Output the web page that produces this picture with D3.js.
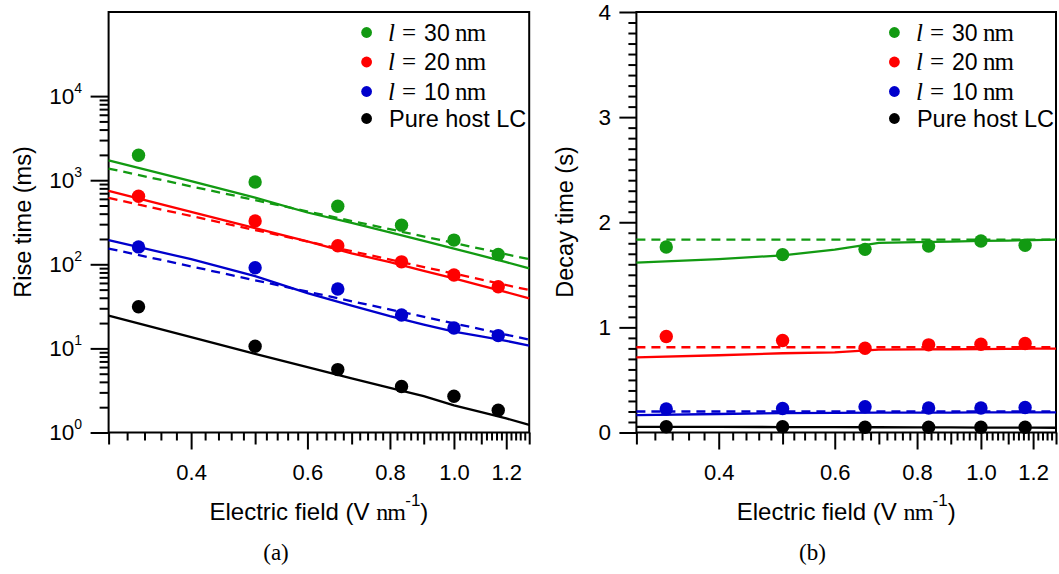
<!DOCTYPE html>
<html>
<head>
<meta charset="utf-8">
<script src="https://cdn.jsdelivr.net/npm/d3@7"></script>
<style>
  body { margin: 0; background: #fff; }
  svg { display: block; }
  text { font-family: "Liberation Sans", Arial, sans-serif; fill: #000; }
  .serif { font-family: "Liberation Serif", "Times New Roman", serif; }
</style>
</head>
<body>
<svg id="fig" width="1059" height="574"></svg>
<script>
// ---- data --------------------------------------------------------------
// Electric field (V/nm) at which response times were measured
const fieldPoints = [0.333, 0.5, 0.667, 0.833, 1.0, 1.167];
// Field grid on which the model curves are evaluated
const fieldGrid = [0.3, 0.4, 0.5, 0.6, 0.7, 0.8, 0.9, 1.0, 1.1, 1.2, 1.3];
const fieldEnds = [0.3, 1.3];

const seriesLengths = ["30", "20", "10"];
const hostLabel = "Pure host LC";
const seriesColors = ["#129a12", "#ff0000", "#0000cc", "#000000"];

// (a) rise time, ms
const rise30 = [1977, 953, 491, 292, 194, 131];
const rise20 = [645, 328, 166, 107, 74.5, 54.1];
const rise10 = [161, 90.9, 50.8, 25.0, 17.5, 14.2];
const riseHost = [31.3, 10.6, 5.6, 3.52, 2.70, 1.84];

const riseModel30 = [1726, 972, 622, 413, 311, 240, 190, 154, 127, 106, 89.4];
const riseModel20 = [745, 420, 270, 187, 135, 106, 83.7, 68, 55.7, 46.7, 39.4];
const riseModel10 = [194, 115, 72.4, 45.5, 32.3, 24.2, 19.2, 15.8, 13.9, 12.3, 10.8];
const riseModelHost = [24.5, 13.6, 8.6, 6.0, 4.4, 3.4, 2.7, 2.1, 1.75, 1.47, 1.23];

const risePower30 = [1375, 115];
const risePower20 = [615, 49.4];
const risePower10 = [154, 12.7];

// (b) decay time, s
const decay30 = [1.765, 1.692, 1.742, 1.774, 1.822, 1.781];
const decay20 = [0.913, 0.875, 0.801, 0.834, 0.839, 0.846];
const decay10 = [0.223, 0.229, 0.245, 0.233, 0.233, 0.238];
const decayHost = [0.054, 0.054, 0.050, 0.050, 0.050, 0.050];

const decayModel30 = [1.615, 1.650, 1.685, 1.740, 1.803, 1.810, 1.815, 1.822, 1.826, 1.830, 1.835];
const decayModel20 = [0.715, 0.735, 0.754, 0.763, 0.789, 0.790, 0.792, 0.794, 0.795, 0.797, 0.798];
const decayModel10 = [0.166, 0.176, 0.185, 0.187, 0.189, 0.190, 0.190, 0.191, 0.191, 0.191, 0.191];
const decayModelHost = [0.054, 0.053, 0.052, 0.051, 0.050, 0.049, 0.048, 0.047, 0.046, 0.046, 0.045];

const decayMean30 = [1.835, 1.835];
const decayMean20 = [0.811, 0.811];
const decayMean10 = [0.200, 0.200];

// tick values
const xMajorTicks = [0.4, 0.6, 0.8, 1.0, 1.2];
const xMidTicks = [0.3, 0.5, 0.7, 0.9, 1.1, 1.3];
const xMinorTicks = d3.range(16, 65).filter(i => i % 5 !== 0).map(i => i / 50);
const riseMajorTicks = [1, 10, 100, 1000, 10000];
const riseMinorTicks = [1, 10, 100, 1000].flatMap(d => d3.range(2, 10).map(k => k * d));
const decayMajorTicks = [0, 1, 2, 3, 4];
const decayMinorTicks = d3.range(1, 40).filter(i => i % 10 !== 0).map(i => i / 10);

// ---- layout ------------------------------------------------------------
const svg = d3.select("#fig");
const plotTop = 12, plotBottom = 432.5;
const panels = [
  { left: 108.6, right: 529.2 },
  { left: 636.4, right: 1056 }
];

function makeX(p) {
  return d3.scaleLog().domain([0.3, 1.3]).range([p.left, p.right]);
}

function drawXAxis(g, x) {
  const mk = (vals, size) => g.append("g")
    .attr("transform", `translate(0,${plotBottom})`)
    .call(d3.axisBottom(x).tickValues(vals).tickSize(size).tickSizeOuter(0).tickFormat(""))
    .call(s => s.select(".domain").remove());
  mk(xMinorTicks, 8);
  mk(xMidTicks, 12);
  const major = g.append("g")
    .attr("transform", `translate(0,${plotBottom})`)
    .call(d3.axisBottom(x).tickValues(xMajorTicks).tickSize(17).tickSizeOuter(0)
      .tickPadding(15).tickFormat(d3.format(".1f")))
    .call(s => s.select(".domain").remove());
  major.selectAll("text").attr("font-size", 22).attr("font-family", "Liberation Sans, Arial, sans-serif");
}

function drawFrame(g, p) {
  g.append("rect")
    .attr("x", p.left).attr("y", plotTop)
    .attr("width", p.right - p.left).attr("height", plotBottom - plotTop)
    .attr("fill", "none").attr("stroke", "#000").attr("stroke-width", 2);
}

function drawLine(g, xs, ys, x, y, color, dashed) {
  const line = d3.line().x(d => x(d[0])).y(d => y(d[1]));
  g.append("path")
    .datum(d3.zip(xs, ys))
    .attr("d", line)
    .attr("fill", "none")
    .attr("stroke", color)
    .attr("stroke-width", 2.3)
    .attr("stroke-dasharray", dashed ? "9,6" : null);
}

function drawPoints(g, xs, ys, x, y, color) {
  g.append("g").selectAll("circle")
    .data(d3.zip(xs, ys))
    .join("circle")
    .attr("cx", d => x(d[0])).attr("cy", d => y(d[1]))
    .attr("r", 6.7).attr("fill", color);
}

function drawLegend(g, p) {
  const mx = p.left + 258, tx = p.left + 279.5;
  const rows = [32.5, 62, 91.5, 118.5];
  rows.forEach((ry, i) => {
    g.append("circle").attr("cx", mx).attr("cy", ry).attr("r", 5.4).attr("fill", seriesColors[i]);
    const t = g.append("text").attr("y", ry + 8).attr("font-size", 23);
    if (i < 3) {
      t.append("tspan").attr("class", "serif").attr("font-style", "italic").attr("font-size", 25).attr("x", tx).text("l");
      t.append("tspan").attr("class", "serif").attr("font-size", 25).attr("x", tx + 14).text("=");
      t.append("tspan").attr("x", tx + 36).text(seriesLengths[i]);
      t.append("tspan").attr("class", "serif").attr("font-size", 25).attr("x", tx + 67).attr("letter-spacing", -0.8).text("nm");
    } else {
      t.append("tspan").attr("x", tx + 1).attr("font-size", 23.5).text(hostLabel);
    }
  });
}

function drawXTitle(g, p, capX, cap) {
  const cx = (p.left + p.right) / 2;
  const t = g.append("text").attr("x", cx).attr("y", 520)
    .attr("text-anchor", "middle").attr("font-size", 24);
  t.append("tspan").text("Electric field (V ");
  t.append("tspan").attr("class", "serif").attr("letter-spacing", -0.8).text("nm");
  t.append("tspan").attr("font-size", 17).attr("dy", -14).text("-1");
  t.append("tspan").attr("dy", 14).text(")");
  g.append("text").attr("class", "serif").attr("x", capX).attr("y", 560)
    .attr("text-anchor", "middle").attr("font-size", 23).text(cap);
}

// ---- panel (a): rise time ---------------------------------------------
{
  const p = panels[0];
  const g = svg.append("g");
  const x = makeX(p);
  const y = d3.scaleLog().domain([1, 1e5]).range([plotBottom, plotTop]);

  const ya = (vals, size) => g.append("g")
    .attr("transform", `translate(${p.left},0)`)
    .call(d3.axisLeft(y).tickValues(vals).tickSize(size).tickSizeOuter(0).tickFormat(""))
    .call(s => s.select(".domain").remove());
  ya(riseMinorTicks, 9);
  ya(riseMajorTicks, 18);
  drawXAxis(g, x);

  riseMajorTicks.forEach(v => {
    const t = g.append("text").attr("x", 82).attr("y", y(v) + 7.5)
      .attr("text-anchor", "end").attr("font-size", 22.5);
    t.append("tspan").text("10");
    t.append("tspan").attr("font-size", 14).attr("dy", -11).text(Math.round(Math.log10(v)));
  });

  drawFrame(g, p);

  const model = [riseModel30, riseModel20, riseModel10, riseModelHost];
  const power = [risePower30, risePower20, risePower10];
  const pts = [rise30, rise20, rise10, riseHost];
  model.forEach((m, i) => drawLine(g, fieldGrid, m, x, y, seriesColors[i], false));
  power.forEach((m, i) => drawLine(g, fieldEnds, m, x, y, seriesColors[i], true));
  pts.forEach((m, i) => drawPoints(g, fieldPoints, m, x, y, seriesColors[i]));

  drawLegend(g, p);

  g.append("text").attr("transform", `translate(31,222) rotate(-90)`)
    .attr("text-anchor", "middle").attr("font-size", 23.5).text("Rise time (ms)");
  drawXTitle(g, p, 276, "(a)");
}

// ---- panel (b): decay time --------------------------------------------
{
  const p = panels[1];
  const g = svg.append("g");
  const x = makeX(p);
  const y = d3.scaleLinear().domain([0, 4]).range([plotBottom, plotTop]);

  const ya = (vals, size) => g.append("g")
    .attr("transform", `translate(${p.left},0)`)
    .call(d3.axisLeft(y).tickValues(vals).tickSize(size).tickSizeOuter(0).tickFormat(""))
    .call(s => s.select(".domain").remove());
  ya(decayMinorTicks, 8);
  ya(decayMajorTicks, 17);
  drawXAxis(g, x);

  decayMajorTicks.forEach(v => {
    g.append("text").attr("x", 611).attr("y", y(v) + 7.8)
      .attr("text-anchor", "end").attr("font-size", 22.5).text(v);
  });

  drawFrame(g, p);

  const model = [decayModel30, decayModel20, decayModel10, decayModelHost];
  const means = [decayMean30, decayMean20, decayMean10];
  const pts = [decay30, decay20, decay10, decayHost];
  model.forEach((m, i) => drawLine(g, fieldGrid, m, x, y, seriesColors[i], false));
  means.forEach((m, i) => drawLine(g, fieldEnds, m, x, y, seriesColors[i], true));
  pts.forEach((m, i) => drawPoints(g, fieldPoints, m, x, y, seriesColors[i]));

  drawLegend(g, p);

  g.append("text").attr("transform", `translate(573,222) rotate(-90)`)
    .attr("text-anchor", "middle").attr("font-size", 23.5).text("Decay time (s)");
  drawXTitle(g, p, 812.5, "(b)");
}

svg.selectAll(".tick line").attr("stroke", "#000").attr("stroke-width", 2);
</script>
</body>
</html>
